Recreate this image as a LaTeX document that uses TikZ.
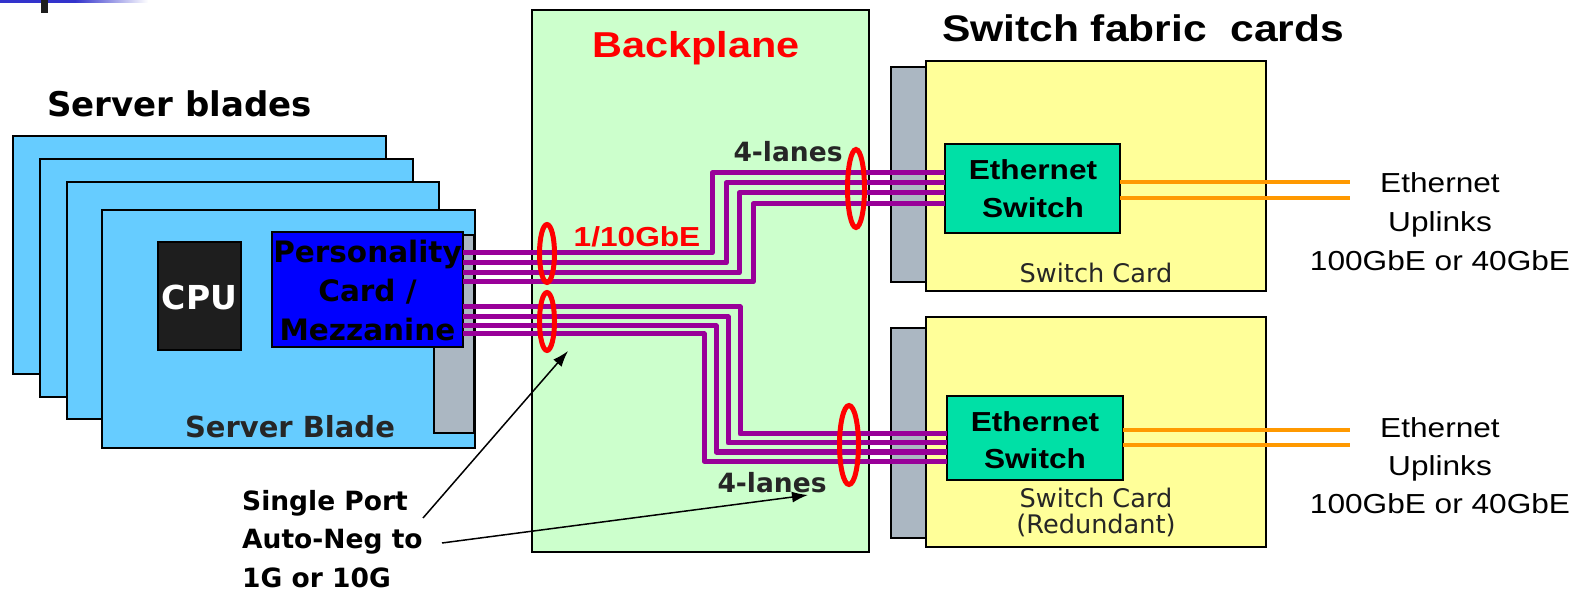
\documentclass[tikz,border=0pt]{standalone}
\usepackage{fontspec}
\setmainfont{DejaVu Sans}
\newfontfamily\arx[FakeStretch=1.15]{Liberation Sans}
\usetikzlibrary{arrows.meta}
\definecolor{bladeblue}{HTML}{66CCFF}
\definecolor{connGray}{HTML}{ABB7C2}
\definecolor{cardBlue}{HTML}{0000FF}
\definecolor{cpuBlack}{HTML}{1E1E1E}
\definecolor{bpGreen}{HTML}{CCFFCC}
\definecolor{cardYellow}{HTML}{FFFF99}
\definecolor{swGreen}{HTML}{00E0A6}
\definecolor{wirePurple}{HTML}{990099}
\definecolor{upOrange}{HTML}{FF9900}
\definecolor{hdrBlue}{HTML}{3333CC}
\definecolor{txtGray}{HTML}{262626}
\begin{document}
\begin{tikzpicture}[x=1pt,y=-1pt,
  box/.style={draw=black, line width=1.8pt},
  blade/.style={box, fill=bladeblue},
  conn/.style={box, fill=connGray},
  wire/.style={draw=wirePurple, line width=5pt, line join=round},
  uplink/.style={draw=upOrange, line width=4.5pt},
  lanering/.style={draw=red, line width=5pt},
  pointer/.style={draw=black, line width=1.5pt, -{Latex[length=16pt,width=11pt]}},
  lbl/.style={inner sep=0pt, anchor=base},
]
\useasboundingbox (0,0) rectangle (1580,593);

% header remnant
\fill[hdrBlue] (0,0) rectangle (75,3);
\shade[left color=hdrBlue, right color=white] (75,0) rectangle (148,3);
\fill[cpuBlack] (41,0) rectangle (48,13);

% server blades
\draw[blade] (13,136) rectangle (386,374);
\draw[blade] (40,159) rectangle (413,397);
\draw[blade] (67,182) rectangle (439,419);
\draw[blade] (102,210) rectangle (475,448);
\draw[conn] (434,235) rectangle (474,433);
\draw[box, fill=cardBlue] (272,232) rectangle (463,347);
\draw[box, fill=cpuBlack] (158,242) rectangle (241,350);

% backplane
\draw[box, fill=bpGreen] (532,10) rectangle (869,552);

% switch cards
\draw[conn] (891,67) rectangle (926,282);
\draw[box, fill=cardYellow] (926,61) rectangle (1266,291);
\draw[box, fill=swGreen] (945,144) rectangle (1120,233);
\draw[conn] (891,328) rectangle (926,538);
\draw[box, fill=cardYellow] (926,317) rectangle (1266,547);
\draw[box, fill=swGreen] (947,396) rectangle (1123,480);

% lanes to top switch
\draw[wire] (463,253) -- (712,253) -- (712,173) -- (945,173);
\draw[wire] (463,263) -- (726,263) -- (726,183) -- (945,183);
\draw[wire] (463,273) -- (739,273) -- (739,193) -- (945,193);
\draw[wire] (463,282) -- (753,282) -- (753,204) -- (945,204);
% lanes to bottom switch
\draw[wire] (463,307) -- (740,307) -- (740,434) -- (947,434);
\draw[wire] (463,317) -- (728,317) -- (728,443) -- (947,443);
\draw[wire] (463,326) -- (716,326) -- (716,452) -- (947,452);
\draw[wire] (463,334) -- (704,334) -- (704,461) -- (947,461);

% uplinks
\draw[uplink] (1120,182) -- (1350,182);
\draw[uplink] (1120,198) -- (1350,198);
\draw[uplink] (1123,430) -- (1350,430);
\draw[uplink] (1123,445) -- (1350,445);

% lane rings
\draw[lanering] (547,253.5) ellipse [x radius=7.5, y radius=29];
\draw[lanering] (547,321.5) ellipse [x radius=7.5, y radius=29];
\draw[lanering] (856,188.5) ellipse [x radius=8.5, y radius=39];
\draw[lanering] (849,445) ellipse [x radius=9.5, y radius=39.5];

% labels
\node[lbl, anchor=base west, font=\bfseries\fontsize{34}{40}\selectfont] (tblades) at (47,117) {Server blades};
\node[lbl, text=red, font=\arx\bfseries\fontsize{36}{40}\selectfont] (tbp) at (696,58) {Backplane};
\node[lbl, font=\arx\bfseries\fontsize{37}{40}\selectfont] (tsw) at (1143,42) {Switch fabric\ \ cards};

\node[lbl, text=white, font=\bfseries\fontsize{33}{40}\selectfont] (tcpu) at (199.5,310) {CPU};
\node[lbl, align=center, font=\bfseries\fontsize{29.5}{39}\selectfont] (tpc) at (367.5,341) {Personality\\Card /\\Mezzanine};
\node[lbl, text=txtGray, font=\bfseries\fontsize{29}{35}\selectfont] (tsb) at (290,438) {Server Blade};

\node[lbl, text=txtGray, font=\bfseries\fontsize{26.5}{30}\selectfont] (tl4a) at (788,162) {4-lanes};
\node[lbl, text=red, font=\arx\bfseries\fontsize{27.5}{30}\selectfont] (tgbe) at (637,247) {1/10GbE};
\node[lbl, text=txtGray, font=\bfseries\fontsize{26.5}{30}\selectfont] (tl4b) at (772,493) {4-lanes};

\node[lbl, align=center, font=\arx\bfseries\fontsize{27.5}{38}\selectfont] (tesa) at (1033,218) {Ethernet\\Switch};
\node[lbl, align=center, font=\arx\bfseries\fontsize{27.5}{37}\selectfont] (tesb) at (1035,468) {Ethernet\\Switch};
\node[lbl, text=txtGray, font=\fontsize{25.6}{30}\selectfont] (tsca) at (1096,283) {Switch Card};
\node[lbl, align=center, text=txtGray, font=\fontsize{25.6}{26}\selectfont] (tscb) at (1096,533) {Switch Card\\(Redundant)};

\node[lbl, align=center, font=\arx\fontsize{27.5}{39}\selectfont] (tupa) at (1440,271) {Ethernet\\Uplinks\\100GbE or 40GbE};
\node[lbl, align=center, font=\arx\fontsize{27.5}{38}\selectfont] (tupb) at (1440,513) {Ethernet\\Uplinks\\100GbE or 40GbE};

\node[lbl, anchor=base west, align=left, font=\bfseries\fontsize{26.5}{38.5}\selectfont] (tsp) at (242,587) {Single Port\\Auto-Neg to\\1G or 10G};

% pointers
\coordinate (p1s) at (423,518);
\coordinate (p1e) at (568,351);
\coordinate (p2s) at (442,543);
\coordinate (p2e) at (808,495);
\draw[pointer] (p1s) -- (p1e);
\draw[pointer] (p2s) -- (p2e);
\end{tikzpicture}
\end{document}
